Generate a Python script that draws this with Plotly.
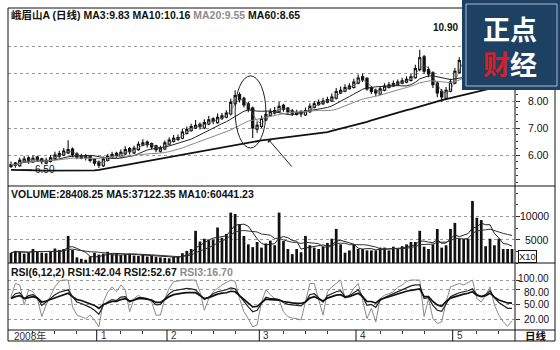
import pandas as pd
import plotly.graph_objects as go

W, H = 560, 350

# ---------------- data ----------------
opens = [5.58,5.70,5.60,5.74,5.90,5.74,5.92,5.86,5.70,5.76,
         5.86,5.96,6.00,6.08,6.22,6.04,5.88,5.98,5.94,5.84,
         5.74,5.60,5.80,5.90,6.06,5.94,6.04,6.24,6.08,6.20,
         6.36,6.48,6.42,6.34,6.14,6.22,6.40,6.50,6.58,6.62,
         6.80,6.90,7.00,7.14,7.00,7.15,7.34,7.20,7.36,7.40,
         7.52,7.90,8.24,8.10,7.90,7.74,6.96,7.06,7.30,7.46,
         7.56,7.60,7.84,7.74,7.64,7.50,7.62,7.48,7.60,7.76,
         7.86,7.90,7.96,8.00,8.10,8.30,8.36,8.46,8.50,8.66,
         8.90,8.84,8.50,8.40,8.26,8.40,8.50,8.56,8.60,8.66,
         8.70,8.76,8.86,9.16,9.64,9.16,9.04,8.66,8.36,8.10,
         8.36,8.66,9.06,9.46,9.86,10.36,10.64,10.34,10.06,10.26,
         10.54,10.24,10.04,9.94,9.72]
highs = [5.76,5.74,5.90,5.96,5.95,5.98,5.97,5.90,5.90,6.00,
         6.12,6.16,6.26,6.55,6.28,6.10,6.05,6.04,5.98,5.88,
         5.80,5.94,6.04,6.12,6.12,6.20,6.32,6.30,6.34,6.50,
         6.58,6.54,6.46,6.38,6.34,6.54,6.66,6.74,6.76,6.96,
         7.06,7.16,7.30,7.20,7.32,7.44,7.40,7.54,7.56,7.66,
         8.08,8.40,8.32,8.16,7.96,7.80,7.24,7.46,7.62,7.72,
         7.78,7.96,7.90,7.78,7.70,7.68,7.66,7.76,7.92,8.00,
         8.06,8.12,8.16,8.28,8.48,8.54,8.62,8.66,8.82,8.98,
         9.02,8.88,8.56,8.46,8.56,8.66,8.70,8.76,8.80,8.86,
         8.92,9.00,9.34,9.90,9.70,9.28,9.10,8.72,8.44,8.52,
         8.82,9.22,9.62,10.02,10.52,10.90,10.72,10.42,10.42,10.64,
         10.58,10.30,10.12,10.00,9.94]
lows = [5.52,5.53,5.56,5.70,5.68,5.70,5.74,5.66,5.66,5.72,
        5.82,5.90,5.96,6.04,5.92,5.84,5.84,5.80,5.72,5.60,
        5.52,5.56,5.76,5.86,5.88,5.90,6.00,6.02,6.04,6.16,
        6.32,6.28,6.20,6.10,6.08,6.18,6.36,6.46,6.52,6.58,
        6.76,6.86,6.96,6.94,6.96,7.10,7.14,7.16,7.30,7.36,
        7.46,7.84,7.94,7.76,7.58,6.63,6.82,7.00,7.26,7.42,
        7.50,7.56,7.60,7.50,7.44,7.46,7.40,7.44,7.56,7.72,
        7.82,7.85,7.92,7.96,8.06,8.26,8.32,8.42,8.46,8.62,
        8.70,8.38,8.26,8.18,8.22,8.36,8.46,8.52,8.56,8.62,
        8.66,8.72,8.82,9.10,9.00,8.88,8.48,8.14,7.97,8.06,
        8.32,8.62,9.02,9.42,9.82,10.28,10.18,9.98,10.02,10.22,
        10.08,9.90,9.80,9.66,9.68]
closes = [5.65,5.62,5.80,5.85,5.78,5.88,5.82,5.75,5.80,5.90,
          6.00,6.05,6.15,6.20,6.00,5.92,5.95,5.90,5.80,5.70,
          5.62,5.85,5.95,6.02,5.98,6.10,6.20,6.12,6.25,6.40,
          6.45,6.38,6.30,6.20,6.25,6.45,6.55,6.62,6.65,6.85,
          6.95,7.05,7.10,7.05,7.20,7.30,7.25,7.40,7.45,7.55,
          7.95,8.20,8.05,7.85,7.70,7.00,7.10,7.35,7.50,7.60,
          7.65,7.80,7.70,7.60,7.55,7.58,7.52,7.65,7.80,7.90,
          7.95,8.00,8.05,8.15,8.35,8.40,8.50,8.55,8.70,8.85,
          8.80,8.45,8.35,8.30,8.45,8.55,8.60,8.65,8.70,8.75,
          8.80,8.90,9.20,9.60,9.10,9.00,8.60,8.30,8.15,8.40,
          8.70,9.10,9.50,9.90,10.40,10.60,10.30,10.10,10.30,10.50,
          10.20,10.00,9.90,9.75,9.85]
ma60 = [5.45,5.45,5.44,5.44,5.43,5.43,5.43,5.42,5.42,5.42,
        5.42,5.42,5.42,5.42,5.42,5.42,5.42,5.42,5.42,5.43,
        5.45,5.48,5.51,5.54,5.57,5.60,5.63,5.66,5.69,5.72,
        5.75,5.78,5.81,5.84,5.87,5.90,5.93,5.96,5.99,6.02,
        6.05,6.08,6.11,6.14,6.17,6.20,6.23,6.26,6.29,6.32,
        6.35,6.38,6.41,6.44,6.47,6.49,6.51,6.54,6.56,6.58,
        6.60,6.62,6.64,6.66,6.68,6.70,6.72,6.74,6.76,6.78,
        6.80,6.82,6.85,6.89,6.93,6.97,7.01,7.05,7.09,7.13,
        7.18,7.23,7.28,7.33,7.37,7.41,7.46,7.51,7.56,7.61,
        7.66,7.70,7.75,7.80,7.85,7.90,7.95,7.99,8.03,8.07,
        8.11,8.15,8.19,8.23,8.27,8.31,8.35,8.39,8.43,8.47,
        8.51,8.55,8.59,8.62,8.65]
volumes = [2200,2600,2400,2000,2300,3000,2500,2200,2100,2400,
           3100,2800,3000,5800,2800,1200,900,700,1400,2200,
           1800,2000,2400,1900,2100,1700,1900,2000,1600,1500,
           1800,1400,1600,1300,1200,1100,1000,1300,1500,2100,
           2600,3000,6900,4600,5200,4900,5000,7600,5400,6200,
           10800,10500,8300,5800,4000,3400,4500,3300,4200,4800,
           3800,10800,4700,3000,1900,3000,2300,5800,3800,3300,
           3000,3500,4300,5200,7300,4000,2200,2700,4000,3000,
           3000,2700,2700,2700,3300,3300,2700,3500,3000,3600,
           4000,4500,4500,6900,3500,3000,4000,7300,3300,3800,
           7300,8600,5200,5200,5200,13300,9700,9200,3600,5200,
           3800,5200,3000,3000,3000]
rsi1 = [63,72,74,62,68,70,64,48,55,62,
        70,75,78,80,66,55,52,48,44,38,
        30,48,55,60,58,65,66,55,60,64,
        64,62,58,49,50,62,72,78,80,82,
        83,82,80,70,60,65,72,76,78,80,
        84,82,68,56,45,35,38,52,65,62,
        62,60,54,50,49,48,47,55,70,72,
        64,55,68,72,76,78,66,68,74,80,
        66,48,50,44,58,64,68,72,76,80,
        84,88,90,90,62,64,48,38,36,52,
        66,70,74,76,78,82,70,66,70,78,
        64,54,48,42,42.04]
rsi2 = [62,66,68,62,64,66,63,55,57,60,
        64,67,70,73,66,60,58,55,52,48,
        42,50,53,56,56,60,62,57,59,62,
        62,61,59,54,54,60,66,70,72,73,
        74,74,74,68,62,64,68,71,73,74,
        77,76,68,60,53,45,46,54,61,60,
        60,59,56,54,53,52,52,55,63,66,
        62,57,63,66,69,70,65,66,70,73,
        66,56,56,53,60,63,65,68,71,74,
        77,79,81,82,66,66,56,49,46,56,
        63,66,69,71,73,76,69,66,68,73,
        65,59,56,53,52.67]
rsi3 = [66,93,90,49,80,76,62,25,49,66,
        86,98,100,100,45,28,25,21,28,18,
        4,55,75,86,76,90,80,35,62,69,
        62,62,55,28,28,62,83,97,98,100,
        100,100,100,76,38,62,76,83,90,95,
        100,97,62,35,21,4,8,55,80,70,
        62,59,35,25,22,21,18,55,93,93,
        62,28,76,86,93,100,62,69,83,93,
        59,21,42,14,62,69,72,76,85,90,
        97,100,100,100,25,62,21,11,14,55,
        86,90,93,90,95,100,62,55,69,86,
        49,28,15,5,16.7]

month_labels = ["2008年", "1", "2", "3", "4", "5"]
month_starts = [0, 20, 36, 57, 79, 101]
week_ticks = [5, 10, 15, 25, 30, 41, 46, 51, 62, 67, 72, 84, 89, 94, 106, 111]
price_ticks = [6, 7, 8, 9, 10]
price_tick_labels = ["6.00", "7.00", "8.00"]
vol_ticks = [5000, 10000]
vol_tick_labels = ["5000", "10000"]
rsi_ticks = [20, 50, 80, 100]
rsi_tick_labels = ["20.00", "50.00", "80.00", "100.00"]

title_main = ("<b>峨眉山A (日线) MA3:9.83 MA10:10.16 "
              "<span style='color:#8c8c8c'>MA20:9.55</span> MA60:8.65</b>")
title_vol = "<b>VOLUME:28408.25 MA5:37122.35 MA10:60441.23</b>"
title_rsi = ("<b>RSI(6,12,2) RSI1:42.04 RSI2:52.67 "
             "<span style='color:#8c8c8c'>RSI3:16.70</span></b>")

# ---------------- derived moving averages ----------------
n = len(closes)
idx = list(range(n))
cs = pd.Series(closes)
ma3 = cs.rolling(3, min_periods=1).mean().tolist()
ma10 = cs.rolling(10, min_periods=1).mean().tolist()
ma20 = cs.rolling(20, min_periods=1).mean().tolist()
vs = pd.Series(volumes)
vma5 = vs.rolling(5, min_periods=1).mean().tolist()
vma10 = vs.rolling(10, min_periods=1).mean().tolist()


def px(v):
    return v / W


def py(v):
    return 1 - v / H


FONT = "Liberation Sans, Arial, Noto Sans CJK SC, sans-serif"
CJK = "Noto Sans CJK SC, sans-serif"
INK = "#111111"

fig = go.Figure()
fig.add_trace(go.Candlestick(
    x=idx, open=opens, high=highs, low=lows, close=closes,
    increasing=dict(line=dict(color=INK, width=1.1), fillcolor="white"),
    decreasing=dict(line=dict(color=INK, width=1.1), fillcolor=INK),
    whiskerwidth=0, xaxis="x", yaxis="y"))
for ser, col, wd in [(ma3, "#555555", 0.7), (ma10, "#222222", 1.0),
                     (ma20, "#8a8a8a", 1.0), (ma60, INK, 1.8)]:
    fig.add_trace(go.Scatter(x=idx, y=ser, mode="lines",
                             line=dict(color=col, width=wd),
                             xaxis="x", yaxis="y"))

fig.add_trace(go.Bar(x=idx, y=volumes, width=0.62,
                     marker=dict(color=INK, line=dict(width=0)),
                     xaxis="x", yaxis="y2"))
fig.add_trace(go.Scatter(x=idx, y=vma5, mode="lines",
                         line=dict(color="#222222", width=1), xaxis="x", yaxis="y2"))
fig.add_trace(go.Scatter(x=idx, y=vma10, mode="lines",
                         line=dict(color="#333333", width=1), xaxis="x", yaxis="y2"))

fig.add_trace(go.Scatter(x=idx, y=rsi3, mode="lines",
                         line=dict(color="#8a8a8a", width=1), xaxis="x", yaxis="y3"))
fig.add_trace(go.Scatter(x=idx, y=rsi1, mode="lines",
                         line=dict(color="#222222", width=1.2), xaxis="x", yaxis="y3"))
fig.add_trace(go.Scatter(x=idx, y=rsi2, mode="lines",
                         line=dict(color=INK, width=1.7), xaxis="x", yaxis="y3"))

grid = dict(showgrid=True, gridcolor="#9a9a9a", griddash="dot", gridwidth=1,
            zeroline=False, showticklabels=False, ticks="outside", ticklen=4,
            tickcolor="#333333", side="right", anchor="x", fixedrange=True)

fig.update_layout(
    width=W, height=H, margin=dict(l=0, r=0, t=0, b=0),
    paper_bgcolor="white", plot_bgcolor="white", showlegend=False,
    font=dict(family=FONT, color=INK),
    xaxis=dict(domain=[px(8), px(515)], range=[-0.68, n - 1 + 0.68],
               anchor="y3", showgrid=False, zeroline=False,
               showticklabels=False, ticks="outside", ticklen=3,
               tickcolor="#333333", tickvals=week_ticks,
               rangeslider=dict(visible=False), fixedrange=True),
    yaxis=dict(domain=[py(186), py(8)], range=[4.852, 11.444],
               tickvals=price_ticks,
               minor=dict(ticks="outside", ticklen=2, dtick=0.25,
                          tickcolor="#333333", showgrid=False), **grid),
    yaxis2=dict(domain=[py(263), py(186)], range=[0, 16500],
                tickvals=vol_ticks,
                minor=dict(ticks="outside", ticklen=2, dtick=2500,
                           tickcolor="#333333", showgrid=False), **grid),
    yaxis3=dict(domain=[py(330), py(263)], range=[-2.5, 135],
                tickvals=rsi_ticks, **grid),
)

line = dict(color=INK, width=1)
shapes = [
    dict(type="rect", xref="paper", yref="paper", x0=px(8), x1=px(555),
         y0=py(341), y1=py(8), line=line),
    dict(type="line", xref="paper", yref="paper", x0=px(515), x1=px(515),
         y0=py(341), y1=py(8), line=line),
]
for yy in (186, 263, 330):
    shapes.append(dict(type="line", xref="paper", yref="paper", x0=px(8),
                       x1=px(555), y0=py(yy), y1=py(yy), line=line))
for ms in month_starts[1:]:
    shapes.append(dict(type="line", xref="x", yref="paper", x0=ms - 0.5,
                       x1=ms - 0.5, y0=py(341), y1=py(330), line=line))
# circled area
shapes.append(dict(type="circle", xref="x", yref="y", x0=51.0, x1=58.0,
                   y0=6.26, y1=8.93, line=dict(color="#222222", width=1)))
# low-price leader
shapes.append(dict(type="line", xref="paper", yref="paper", x0=px(22), x1=px(32),
                   y0=py(170), y1=py(170), line=line))
# logo
shapes.append(dict(type="rect", xref="paper", yref="paper", x0=px(462), x1=1,
                   y0=py(90), y1=1, fillcolor="#1d4163", line=dict(width=0),
                   layer="above"))
shapes.append(dict(type="rect", xref="paper", yref="paper", x0=px(466), x1=px(557),
                   y0=py(86), y1=py(4), line=dict(color="#a9bccf", width=1),
                   layer="above"))
fig.update_layout(shapes=shapes)

ann = []


def text(x, y, s, size=10.5, anchor="left", color=INK, family=FONT, **kw):
    ann.append(dict(xref="paper", yref="paper", x=px(x), y=py(y), text=s,
                    showarrow=False, xanchor=anchor, yanchor="middle",
                    font=dict(size=size, color=color, family=family), **kw))


text(9, 15, title_main)
text(9, 193.5, title_vol)
text(9, 271.5, title_rsi)

for v, lab in zip(price_ticks, price_tick_labels):
    ann.append(dict(xref="paper", yref="y", x=px(551), y=v, text=lab,
                    showarrow=False, xanchor="right", yanchor="middle",
                    font=dict(size=10.5, color=INK)))
for v, lab in zip(vol_ticks, vol_tick_labels):
    ann.append(dict(xref="paper", yref="y2", x=px(551), y=v, text=lab,
                    showarrow=False, xanchor="right", yanchor="middle",
                    font=dict(size=10.5, color=INK)))
rsi_shift = {100: 2, 80: -2}
for v, lab in zip(rsi_ticks, rsi_tick_labels):
    ann.append(dict(xref="paper", yref="y3", x=px(551), y=v, text=lab,
                    showarrow=False, xanchor="right", yanchor="middle",
                    yshift=rsi_shift.get(v, 0), height=10,
                    font=dict(size=10, color=INK)))

text(518, 256.5, "X10", size=9.5, bordercolor=INK, borderwidth=1, borderpad=0)
text(536, 335.5, "<b>日线</b>", size=10.5, anchor="center", family=CJK)

for ms, lab in zip(month_starts, month_labels):
    ann.append(dict(xref="x", yref="paper", x=ms - 0.5, y=py(335.5), text=lab,
                    showarrow=False, xanchor="left", yanchor="middle",
                    xshift=2 if ms else 3,
                    font=dict(size=10, color="#333333", family=FONT)))

text(33, 169, "6.50", size=10)
text(431, 27, "<b>10.90</b>", size=10)

# arrow pointing at the circled pullback
ann.append(dict(xref="x", yref="y", x=58.5, y=6.59, ax=25, ay=29,
                axref="pixel", ayref="pixel", text="", showarrow=True,
                arrowhead=1, arrowsize=1, arrowwidth=1, arrowcolor="#222222"))

# logo text (one block, two rows)
text(510, 46, "<b>正点<br><span style='color:#d4202c'>财</span>经</b>",
     size=27, anchor="center", color="white", family=CJK)

fig.update_layout(annotations=ann)
fig.write_html("out.html")
